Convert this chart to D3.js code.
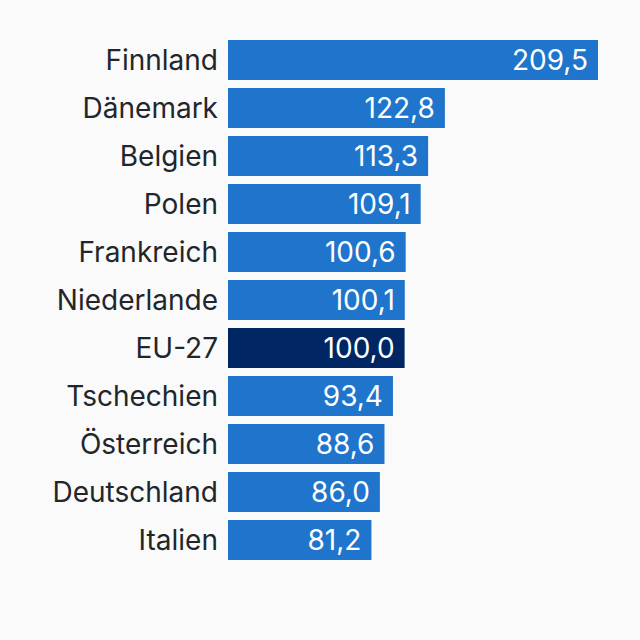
<!DOCTYPE html>
<html><head><meta charset="utf-8">
<script src="https://cdn.jsdelivr.net/npm/d3@7"></script>
<style>html,body{margin:0;padding:0;background:#fafafa;}</style>
</head><body>
<svg id="c" width="640" height="640"></svg>
<script>
const categories = ["Finnland","Dänemark","Belgien","Polen","Frankreich","Niederlande","EU-27","Tschechien","Österreich","Deutschland","Italien"];
const values = [209.5,122.8,113.3,109.1,100.6,100.1,100.0,93.4,88.6,86.0,81.2];
const highlight = ["EU-27"];

const svg = d3.select("#c");
svg.append("rect").attr("width",640).attr("height",640).attr("fill","#fafafa");
const x = d3.scaleLinear().domain([0,209.5]).range([228,598]);
const y = d3.scaleBand().domain(categories).range([36,564]).paddingInner(8/48).paddingOuter(4/48);
const fmt = v => d3.format(".1f")(v).replace(".",",");
const data = categories.map((c,i)=>({c,v:values[i]}));
const g = svg.append("g");
g.selectAll("rect.bar").data(data).join("rect").attr("class","bar")
 .attr("x",x(0)).attr("y",d=>y(d.c)).attr("width",d=>x(d.v)-x(0)).attr("height",y.bandwidth())
 .attr("fill",d=>highlight.includes(d.c)?"#002663":"#1f75cc");
g.selectAll("text.val").data(data).join("text").attr("class","val")
 .attr("x",d=>x(d.v)-10).attr("y",d=>y(d.c)+y.bandwidth()/2).attr("dy","0.36em")
 .attr("text-anchor","end").attr("fill","#ffffff").style("font-family","Inter").style("font-size","28px")
 .text(d=>fmt(d.v));
g.selectAll("text.lab").data(data).join("text").attr("class","lab")
 .attr("x",218).attr("y",d=>y(d.c)+y.bandwidth()/2).attr("dy","0.36em")
 .attr("text-anchor","end").attr("fill","#22262a").style("font-family","Inter").style("font-size","28px")
 .text(d=>d.c);
</script>
</body></html>
